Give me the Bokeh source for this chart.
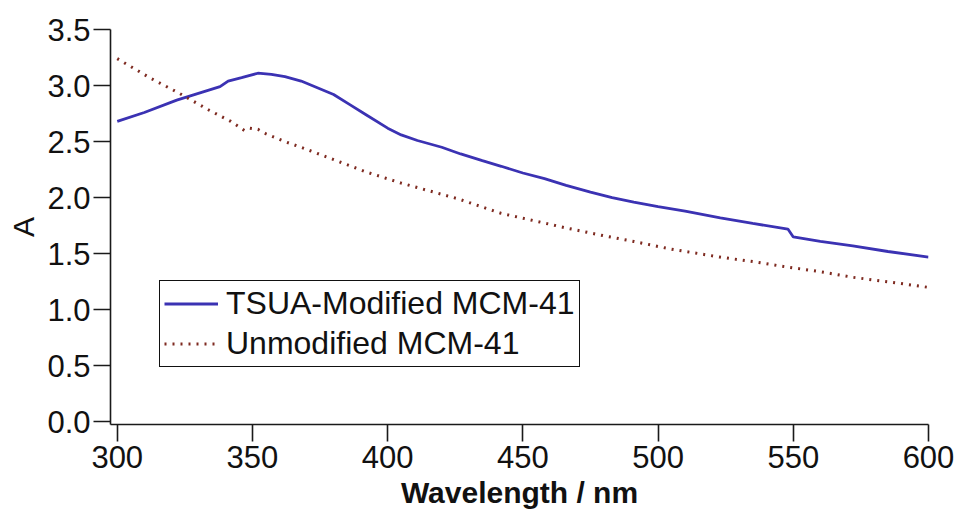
from bokeh.plotting import figure
from bokeh.models import FixedTicker, NumeralTickFormatter, Range1d
from bokeh.embed import file_html
from bokeh.resources import INLINE

# Data
wl_mod = [300, 310, 322, 330, 338, 341, 346, 352, 357, 362, 368, 372, 380, 386, 392,
          400, 405, 411, 420, 427, 435, 442, 450, 458, 466, 475, 483, 491, 500, 510,
          523, 535, 548, 550, 560, 572, 585, 600]
a_mod = [2.68, 2.76, 2.87, 2.93, 2.99, 3.04, 3.07, 3.11, 3.10, 3.08, 3.04, 3.00, 2.92, 2.83, 2.74,
         2.62, 2.56, 2.51, 2.45, 2.39, 2.33, 2.28, 2.22, 2.17, 2.11, 2.05, 2.00, 1.96, 1.92, 1.88,
         1.82, 1.77, 1.72, 1.65, 1.61, 1.57, 1.52, 1.47]

wl_unmod = [300, 312, 323, 334, 342, 347, 349, 352, 355, 362, 369, 380, 392, 405, 417,
            426, 442, 455, 466, 480, 491, 505, 523, 535, 548, 560, 572, 585, 600]
a_unmod = [3.24, 3.07, 2.93, 2.78, 2.68, 2.60, 2.62, 2.61, 2.57, 2.50, 2.44, 2.34, 2.23, 2.13, 2.05,
           1.99, 1.86, 1.79, 1.73, 1.66, 1.61, 1.54, 1.47, 1.43, 1.38, 1.34, 1.29, 1.25, 1.20]

x_ticks = [300, 350, 400, 450, 500, 550, 600]
y_ticks = [0.0, 0.5, 1.0, 1.5, 2.0, 2.5, 3.0, 3.5]

FONT = "Liberation Sans"

p = figure(width=960, height=513, output_backend="svg", toolbar_location=None,
           x_range=Range1d(297.5, 600), y_range=Range1d(-0.023, 3.5),
           min_border_left=110, min_border_right=32, min_border_top=29, min_border_bottom=89)
p.outline_line_color = None
p.grid.visible = False
p.background_fill_color = "white"
p.border_fill_color = "white"

p.line(wl_mod, a_mod, line_color="#3b32b3", line_width=2.8, legend_label="TSUA-Modified MCM-41")
p.line(wl_unmod, a_unmod, line_color="#7e2a20", line_width=3, line_dash="2 6",
       legend_label="Unmodified MCM-41")

for ax in (p.xaxis[0], p.yaxis[0]):
    ax.axis_line_color = "#1a1a1a"
    ax.axis_line_width = 1.6
    ax.major_tick_line_color = "#1a1a1a"
    ax.major_tick_line_width = 1.6
    ax.major_tick_in = 0
    ax.major_tick_out = 17
    ax.minor_tick_line_color = None
    ax.major_label_text_font = FONT
    ax.major_label_text_font_size = "31px"
    ax.major_label_text_color = "#111111"
    ax.axis_label_text_font = FONT
    ax.axis_label_text_font_size = "30px"
    ax.axis_label_text_color = "#111111"

p.xaxis.ticker = FixedTicker(ticks=x_ticks)
p.yaxis.ticker = FixedTicker(ticks=y_ticks)
p.yaxis.formatter = NumeralTickFormatter(format="0.0")
p.xaxis.axis_label = "Wavelength / nm"
p.xaxis.axis_label_text_font_style = "bold"
p.xaxis.axis_label_standoff = 5
p.xaxis.major_label_standoff = 4
p.yaxis.axis_label = "A"
p.yaxis.axis_label_text_font_style = "normal"
p.yaxis.major_label_standoff = 3
p.yaxis.axis_label_standoff = 4

lg = p.legend[0]
lg.location = (49, 57)
lg.border_line_color = "#111111"
lg.border_line_alpha = 1.0
lg.border_line_width = 1.5
lg.background_fill_color = "white"
lg.background_fill_alpha = 1.0
lg.label_text_font = FONT
lg.label_text_font_size = "32px"
lg.label_text_color = "#111111"
lg.glyph_width = 54
lg.glyph_height = 33
lg.label_height = 33
lg.label_standoff = 8
lg.padding = 4
lg.spacing = 3
lg.margin = 0

open("out.html", "w").write(file_html(p, INLINE))
